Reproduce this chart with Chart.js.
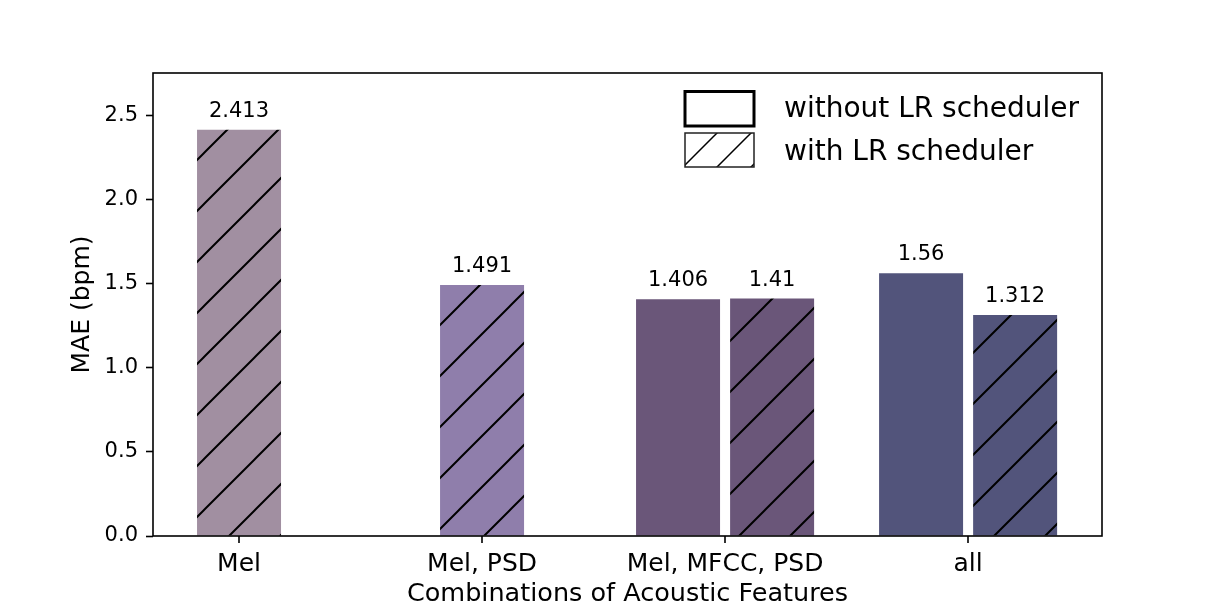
<!DOCTYPE html>
<html>
<head>
<meta charset="utf-8">
<script src="https://cdn.jsdelivr.net/npm/chart.js@4/dist/chart.umd.min.js"></script>
<style>
  html, body { margin: 0; padding: 0; background: #fff; }
  .chart_wrap { width: 1224px; height: 612px; }
</style>
</head>
<body>
<div class="chart_wrap"><canvas id="mae_chart" width="1224" height="612"></canvas></div>
<script>
//! Data
const categories = ["Mel", "Mel, PSD", "Mel, MFCC, PSD", "all"];
const withoutScheduler = [null, null, 1.406, 1.56];
const withScheduler = [2.413, 1.491, 1.41, 1.312];
const yTicks = [0, 0.5, 1.0, 1.5, 2.0, 2.5];
const seriesNames = ["without LR scheduler", "with LR scheduler"];
const barColors = ["#a18fa1", "#8f7eab", "#6a5679", "#52547b"];

const FONT = "'DejaVu Sans', sans-serif";

//! Hatch pattern "/"
const makeHatch = (color, size, lw) => {
  let tile = document.createElement("canvas");
  tile.width = size;
  tile.height = size;
  let c = tile.getContext("2d");
  c.fillStyle = color;
  c.fillRect(0, 0, size, size);
  c.strokeStyle = "#000";
  c.lineWidth = lw;
  c.beginPath();
  c.moveTo(-2, size + 2);
  c.lineTo(size + 2, -2);
  c.moveTo(-2, 2);
  c.lineTo(2, -2);
  c.moveTo(size - 2, size + 2);
  c.lineTo(size + 2, size - 2);
  c.stroke();
  return c.createPattern(tile, "repeat");
};

const toPoints = (values) => values.map((v, i) => ({ x: i, y: v }));

//! Plugins
// frame around the plot + x tick marks
const frameBox = {
  id: "frameBox",
  afterDatasetsDraw(chart) {
    let { ctx, chartArea } = chart;
    let xScale = chart.scales.x;
    ctx.save();
    ctx.strokeStyle = "#000";
    ctx.lineWidth = 1.6;
    ctx.strokeRect(chartArea.left, chartArea.top, chartArea.right - chartArea.left, chartArea.bottom - chartArea.top);
    ctx.beginPath();
    xScale.ticks.forEach((t) => {
      let px = Math.round(xScale.getPixelForValue(t.value));
      ctx.moveTo(px, chartArea.bottom);
      ctx.lineTo(px, chartArea.bottom + 7);
    });
    ctx.stroke();
    ctx.restore();
  },
};

const valueLabels = {
  id: "valueLabels",
  afterDatasetsDraw(chart) {
    let ctx = chart.ctx;
    ctx.save();
    ctx.font = "21px " + FONT;
    ctx.fillStyle = "#000";
    ctx.textAlign = "center";
    ctx.textBaseline = "alphabetic";
    chart.data.datasets.forEach((ds, di) => {
      let meta = chart.getDatasetMeta(di);
      meta.data.forEach((bar, i) => {
        let v = ds.data[i].y;
        if (v === null) return;
        ctx.fillText(String(v), bar.x, bar.y - 13);
      });
    });
    ctx.restore();
  },
};

const boxLegend = {
  id: "boxLegend",
  afterDraw(chart) {
    let ctx = chart.ctx;
    ctx.save();
    // without
    ctx.fillStyle = "#fff";
    ctx.fillRect(685, 91.5, 69, 34.5);
    ctx.strokeStyle = "#000";
    ctx.lineWidth = 3;
    ctx.strokeRect(685, 91.5, 69, 34.5);
    // with
    ctx.fillStyle = makeHatch("#fff", 34, 1.5);
    ctx.fillRect(685, 133, 69, 34);
    ctx.strokeStyle = "#222";
    ctx.lineWidth = 1.5;
    ctx.strokeRect(685, 133, 69, 34);

    ctx.font = "28px " + FONT;
    ctx.fillStyle = "#000";
    ctx.textAlign = "left";
    ctx.textBaseline = "middle";
    ctx.fillText(seriesNames[0], 784, 110);
    ctx.fillText(seriesNames[1], 784, 153);
    ctx.restore();
  },
};

//! Chart
const ctx = document.getElementById("mae_chart");

new Chart(ctx, {
  type: "bar",
  data: {
    datasets: [
      {
        label: seriesNames[0],
        data: toPoints(withoutScheduler),
        backgroundColor: barColors,
        borderWidth: 0,
      },
      {
        label: seriesNames[1],
        data: toPoints(withScheduler),
        backgroundColor: barColors.map((c) => makeHatch(c, 51, 2)),
        borderWidth: 0,
      },
    ],
  },
  options: {
    responsive: false,
    animation: false,
    maintainAspectRatio: false,
    skipNull: true,
    categoryPercentage: 0.774,
    barPercentage: 0.894,
    maxBarThickness: 84,
    layout: {
      padding: { left: 0, right: 122, top: 73, bottom: 0 },
    },
    plugins: {
      legend: { display: false },
      tooltip: { enabled: false },
    },
    scales: {
      x: {
        type: "linear",
        min: -0.354,
        max: 3.551,
        offset: false,
        afterFit: (scale) => {
          scale.height = 76;
        },
        afterBuildTicks: (scale) => {
          scale.ticks = categories.map((c, i) => ({ value: i }));
        },
        grid: {
          display: false,
          drawTicks: true,
          tickLength: 7,
        },
        border: { display: false },
        ticks: {
          padding: 6,
          color: "#000",
          font: { family: FONT, size: 25 },
          maxRotation: 0,
          autoSkip: false,
          callback: (value) => categories[value],
        },
        title: {
          display: true,
          text: "Combinations of Acoustic Features",
          color: "#000",
          font: { family: FONT, size: 25.5 },
          padding: { top: 0, bottom: 2 },
        },
      },
      y: {
        min: 0,
        max: 2.75,
        afterFit: (scale) => {
          scale.width = 153;
        },
        afterBuildTicks: (scale) => {
          scale.ticks = yTicks.map((v) => ({ value: v }));
        },
        grid: {
          display: true,
          drawOnChartArea: false,
          drawTicks: true,
          tickLength: 7,
          tickWidth: 1.6,
          tickColor: "#000",
        },
        border: { display: false },
        ticks: {
          padding: 8,
          color: "#000",
          font: { family: FONT, size: 21 },
          callback: (value) => value.toFixed(1),
        },
        title: {
          display: true,
          text: "MAE (bpm)",
          color: "#000",
          font: { family: FONT, size: 25 },
          padding: { top: 67, bottom: 0 },
        },
      },
    },
  },
  plugins: [frameBox, valueLabels, boxLegend],
});
</script>
</body>
</html>
